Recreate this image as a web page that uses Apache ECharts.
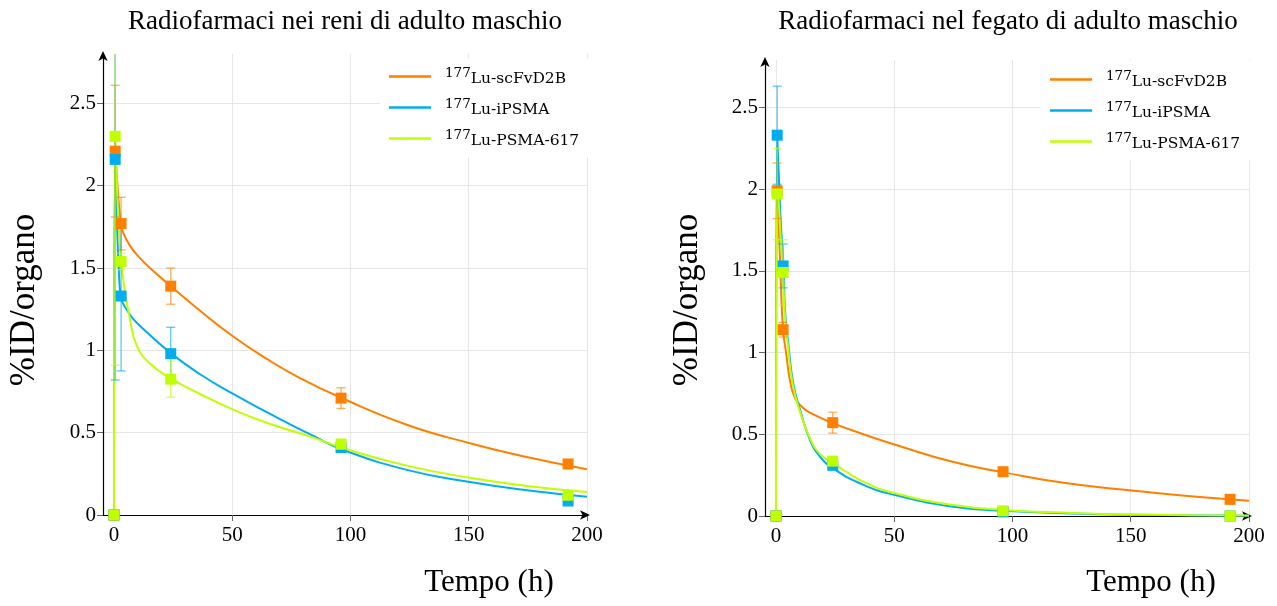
<!DOCTYPE html>
<html>
<head>
<meta charset="utf-8">
<script src="https://cdn.jsdelivr.net/npm/echarts@6/dist/echarts.min.js"></script>
<style>html,body{margin:0;padding:0;background:#fff;}#c{width:1277px;height:606px;}</style>
</head>
<body>
<div id="c"></div>
<script>
// ---------- data ----------
const isotope = '177';
const compounds = ['Lu-scFvD2B', 'Lu-iPSMA', 'Lu-PSMA-617'];
const times = [0, 0.5, 3, 24, 96, 192];
const xTicks = [0, 50, 100, 150, 200];
const yTicks = [0, 0.5, 1, 1.5, 2, 2.5];
const chartTitles = ['Radiofarmaci nei reni di adulto maschio', 'Radiofarmaci nel fegato di adulto maschio'];
const yName = '%ID/organo';
const xName = 'Tempo (h)';

// kidneys (reni)
const reniScFv = [0, 2.21, 1.77, 1.39, 0.71, 0.31];
const reniScFvErr = [0, 0.40, 0.16, 0.11, 0.063, 0.02];
const reniIPSMA = [0, 2.16, 1.33, 0.98, 0.41, 0.085];
const reniIPSMAErr = [0, 1.34, 0.455, 0.16, 0.03, 0.01];
const reniPSMA617 = [0, 2.30, 1.54, 0.825, 0.43, 0.12];
const reniPSMA617Err = [0, 1.39, 0.05, 0.11, 0.03, 0.02];

// kidneys fitted curves [t, value]
const reniScFvCurve = [[0,0],[0.5,2.2],[1,2.1],[2,1.9],[3,1.77],[4,1.71],[7,1.63],[11,1.56],[15.2,1.5],[24,1.39],[36.4,1.24],[50.4,1.084],[64.6,0.948],[78.6,0.832],[96,0.712],[123.8,0.548],[150.5,0.436],[174.5,0.352],[200,0.278]];
const reniIPSMACurve = [[0,0],[0.5,2.16],[1,1.9],[2,1.5],[3,1.32],[5.4,1.246],[8.2,1.19],[12.4,1.13],[24,0.983],[36.4,0.855],[50.4,0.735],[64.6,0.625],[84.3,0.48],[97,0.395],[123.8,0.274],[150.5,0.2],[174.5,0.15],[200,0.111]];
const reniPSMA617Curve = [[0,0],[0.5,2.3],[1,2.1],[2,1.75],[3,1.54],[3.9,1.43],[6.8,1.185],[9.6,1.03],[15.2,0.92],[24,0.83],[36.4,0.735],[50.4,0.64],[64.6,0.56],[84.3,0.47],[97,0.405],[123.8,0.3],[150.5,0.226],[174.5,0.176],[200,0.14]];

// liver (fegato)
const fegatoScFv = [0, 1.99, 1.14, 0.571, 0.271, 0.102];
const fegatoScFvErr = [0, 0.17, 0.045, 0.064, 0.01, 0.01];
const fegatoIPSMA = [0, 2.33, 1.53, 0.31, 0.025, 0.0];
const fegatoIPSMAErr = [0, 0.30, 0.134, 0.02, 0.005, 0];
const fegatoPSMA617 = [0, 1.97, 1.49, 0.336, 0.032, 0.0];
const fegatoPSMA617Err = [0, 0.28, 0.2, 0.02, 0.005, 0];

const fegatoScFvCurve = [[0,0],[0.5,2.0],[1,1.85],[2,1.45],[3,1.14],[4.5,0.974],[5.9,0.83],[8.1,0.72],[11.6,0.66],[15.8,0.622],[24.3,0.567],[37,0.5],[50.4,0.436],[75.1,0.33],[96.3,0.267],[123.2,0.2],[151.4,0.155],[174,0.122],[200,0.094]];
const fegatoIPSMACurve = [[0,0],[0.5,2.33],[1,2.15],[2,1.8],[3.2,1.53],[3.8,1.26],[5.2,1.056],[7.3,0.81],[10.2,0.648],[14.4,0.465],[18.6,0.363],[24.3,0.29],[37,0.19],[50.4,0.128],[75,0.057],[96.3,0.032],[125,0.015],[150,0.008],[175,0.004],[200,0.002]];
const fegatoPSMA617Curve = [[0,0],[0.5,2.0],[1,1.95],[2,1.7],[3,1.49],[3.6,1.26],[5.0,1.05],[7.0,0.81],[10,0.645],[14.4,0.475],[18.6,0.38],[24.3,0.322],[37,0.21],[50.4,0.139],[75,0.067],[96.3,0.037],[125,0.018],[150,0.009],[175,0.005],[200,0.003]];

// ---------- styling ----------
const colors = ['#ff8000', '#00aeef', '#bfff00'];
const serif = '"Liberation Serif", "DejaVu Serif", serif';
const wideSerif = '"DejaVu Serif", "Liberation Serif", serif';

const chart = echarts.init(document.getElementById('c'), null, {renderer: 'canvas'});

function pts(vals, errs) { return times.map((t, i) => [t, vals[i], errs[i]]); }

function errRender(color) {
  return function (params, api) {
    const t = api.value(0), v = api.value(1), e = api.value(2);
    if (!e) return null;
    const a = api.coord([t, v + e]), b = api.coord([t, v - e]);
    const w = 4.5;
    const st = {stroke: color, lineWidth: 1.3, opacity: 0.65};
    return {type: 'group', children: [
      {type: 'line', shape: {x1: a[0], y1: a[1], x2: b[0], y2: b[1]}, style: st},
      {type: 'line', shape: {x1: a[0] - w, y1: a[1], x2: a[0] + w, y2: a[1]}, style: st},
      {type: 'line', shape: {x1: b[0] - w, y1: b[1], x2: b[0] + w, y2: b[1]}, style: st}
    ]};
  };
}

const panels = [
  {curves: [reniScFvCurve, reniIPSMACurve, reniPSMA617Curve],
   vals: [reniScFv, reniIPSMA, reniPSMA617], errs: [reniScFvErr, reniIPSMAErr, reniPSMA617Err]},
  {curves: [fegatoScFvCurve, fegatoIPSMACurve, fegatoPSMA617Curve],
   vals: [fegatoScFv, fegatoIPSMA, fegatoPSMA617], errs: [fegatoScFvErr, fegatoIPSMAErr, fegatoPSMA617Err]}
];

const series = [];
panels.forEach((p, gi) => {
  compounds.forEach((name, k) => {
    series.push({name: name, type: 'line', xAxisIndex: gi, yAxisIndex: gi, data: p.curves[k],
      showSymbol: false, smooth: 0.5, clip: true, z: 2,
      lineStyle: {color: colors[k], width: 2}, itemStyle: {color: colors[k]}, silent: true});
  });
  compounds.forEach((name, k) => {
    series.push({name: name + ' err', type: 'custom', xAxisIndex: gi, yAxisIndex: gi, data: pts(p.vals[k], p.errs[k]),
      renderItem: errRender(colors[k]), clip: true, z: 3, silent: true});
  });
  compounds.forEach((name, k) => {
    series.push({name: name + ' pts', type: 'scatter', xAxisIndex: gi, yAxisIndex: gi, data: pts(p.vals[k], p.errs[k]),
      symbol: 'rect', symbolSize: 11, itemStyle: {color: colors[k], opacity: 1}, z: 4, clip: false, silent: true});
  });
});

const grids = [
  {left: 103, top: 54, width: 484, height: 461},
  {left: 765, top: 60, width: 484, height: 456}
];
const yMax = [2.8, 2.79];

function xAxis(gi) {
  return {type: 'value', gridIndex: gi, min: -4.65, max: 200,
    axisLine: {show: true, onZero: false, lineStyle: {color: '#000', width: 1.2}, symbol: ['none', 'arrow'], symbolSize: [7, 10], symbolOffset: [0, 3]},
    axisTick: {show: true, customValues: xTicks, length: 6, lineStyle: {color: '#666'}},
    axisLabel: {customValues: xTicks, margin: 10, color: '#000', fontFamily: serif, fontSize: 21},
    splitLine: {show: true, lineStyle: {color: '#e6e6e6', width: 1}}};
}
function yAxis(gi) {
  return {type: 'value', gridIndex: gi, min: 0, max: yMax[gi],
    axisLine: {show: true, onZero: false, lineStyle: {color: '#000', width: 1.2}, symbol: ['none', 'arrow'], symbolSize: [7, 10], symbolOffset: [0, 3]},
    axisTick: {show: true, customValues: yTicks, length: 6, lineStyle: {color: '#666'}},
    axisLabel: {customValues: yTicks, margin: 7, color: '#000', fontFamily: serif, fontSize: 21},
    splitLine: {show: true, lineStyle: {color: '#e6e6e6', width: 1}}};
}

function legend(gi, left, top) {
  return {show: true, orient: 'vertical', left: left, top: top, data: compounds,
    icon: 'rect', itemWidth: 42, itemHeight: 2.5, itemGap: 10,
    backgroundColor: '#fff', padding: [8, 10, 8, 9], selectedMode: false,
    formatter: n => '{sup|' + isotope + '}{sub|' + n + '}',
    textStyle: {fontFamily: wideSerif, color: '#000', padding: [0, 0, 0, 9],
      rich: {sup: {fontFamily: wideSerif, fontSize: 13.5, verticalAlign: 'top', padding: [0, 0, 5, 0]},
             sub: {fontFamily: wideSerif, fontSize: 15.5, verticalAlign: 'bottom', padding: [5, 0, 0, 0]}}}};
}

const option = {
  animation: false,
  backgroundColor: '#fff',
  grid: grids,
  xAxis: [xAxis(0), xAxis(1)],
  yAxis: [yAxis(0), yAxis(1)],
  legend: [legend(0, 380, 58), legend(1, 1041, 61)],
  series: series,
  graphic: [
    {type: 'text', x: 345, y: 22, style: {text: chartTitles[0], font: '27px ' + serif, fill: '#000', textAlign: 'center', textVerticalAlign: 'middle'}},
    {type: 'text', x: 1008, y: 22, style: {text: chartTitles[1], font: '27px ' + serif, fill: '#000', textAlign: 'center', textVerticalAlign: 'middle'}},
    {type: 'text', x: 25, y: 300, rotation: Math.PI / 2, style: {text: yName, font: '35px ' + serif, fill: '#000', textAlign: 'center', textVerticalAlign: 'middle'}},
    {type: 'text', x: 688, y: 300, rotation: Math.PI / 2, style: {text: yName, font: '35px ' + serif, fill: '#000', textAlign: 'center', textVerticalAlign: 'middle'}},
    {type: 'text', x: 489, y: 583, style: {text: xName, font: '31px ' + serif, fill: '#000', textAlign: 'center', textVerticalAlign: 'middle'}},
    {type: 'text', x: 1151, y: 583, style: {text: xName, font: '31px ' + serif, fill: '#000', textAlign: 'center', textVerticalAlign: 'middle'}}
  ]
};
chart.setOption(option);
</script>
</body>
</html>
